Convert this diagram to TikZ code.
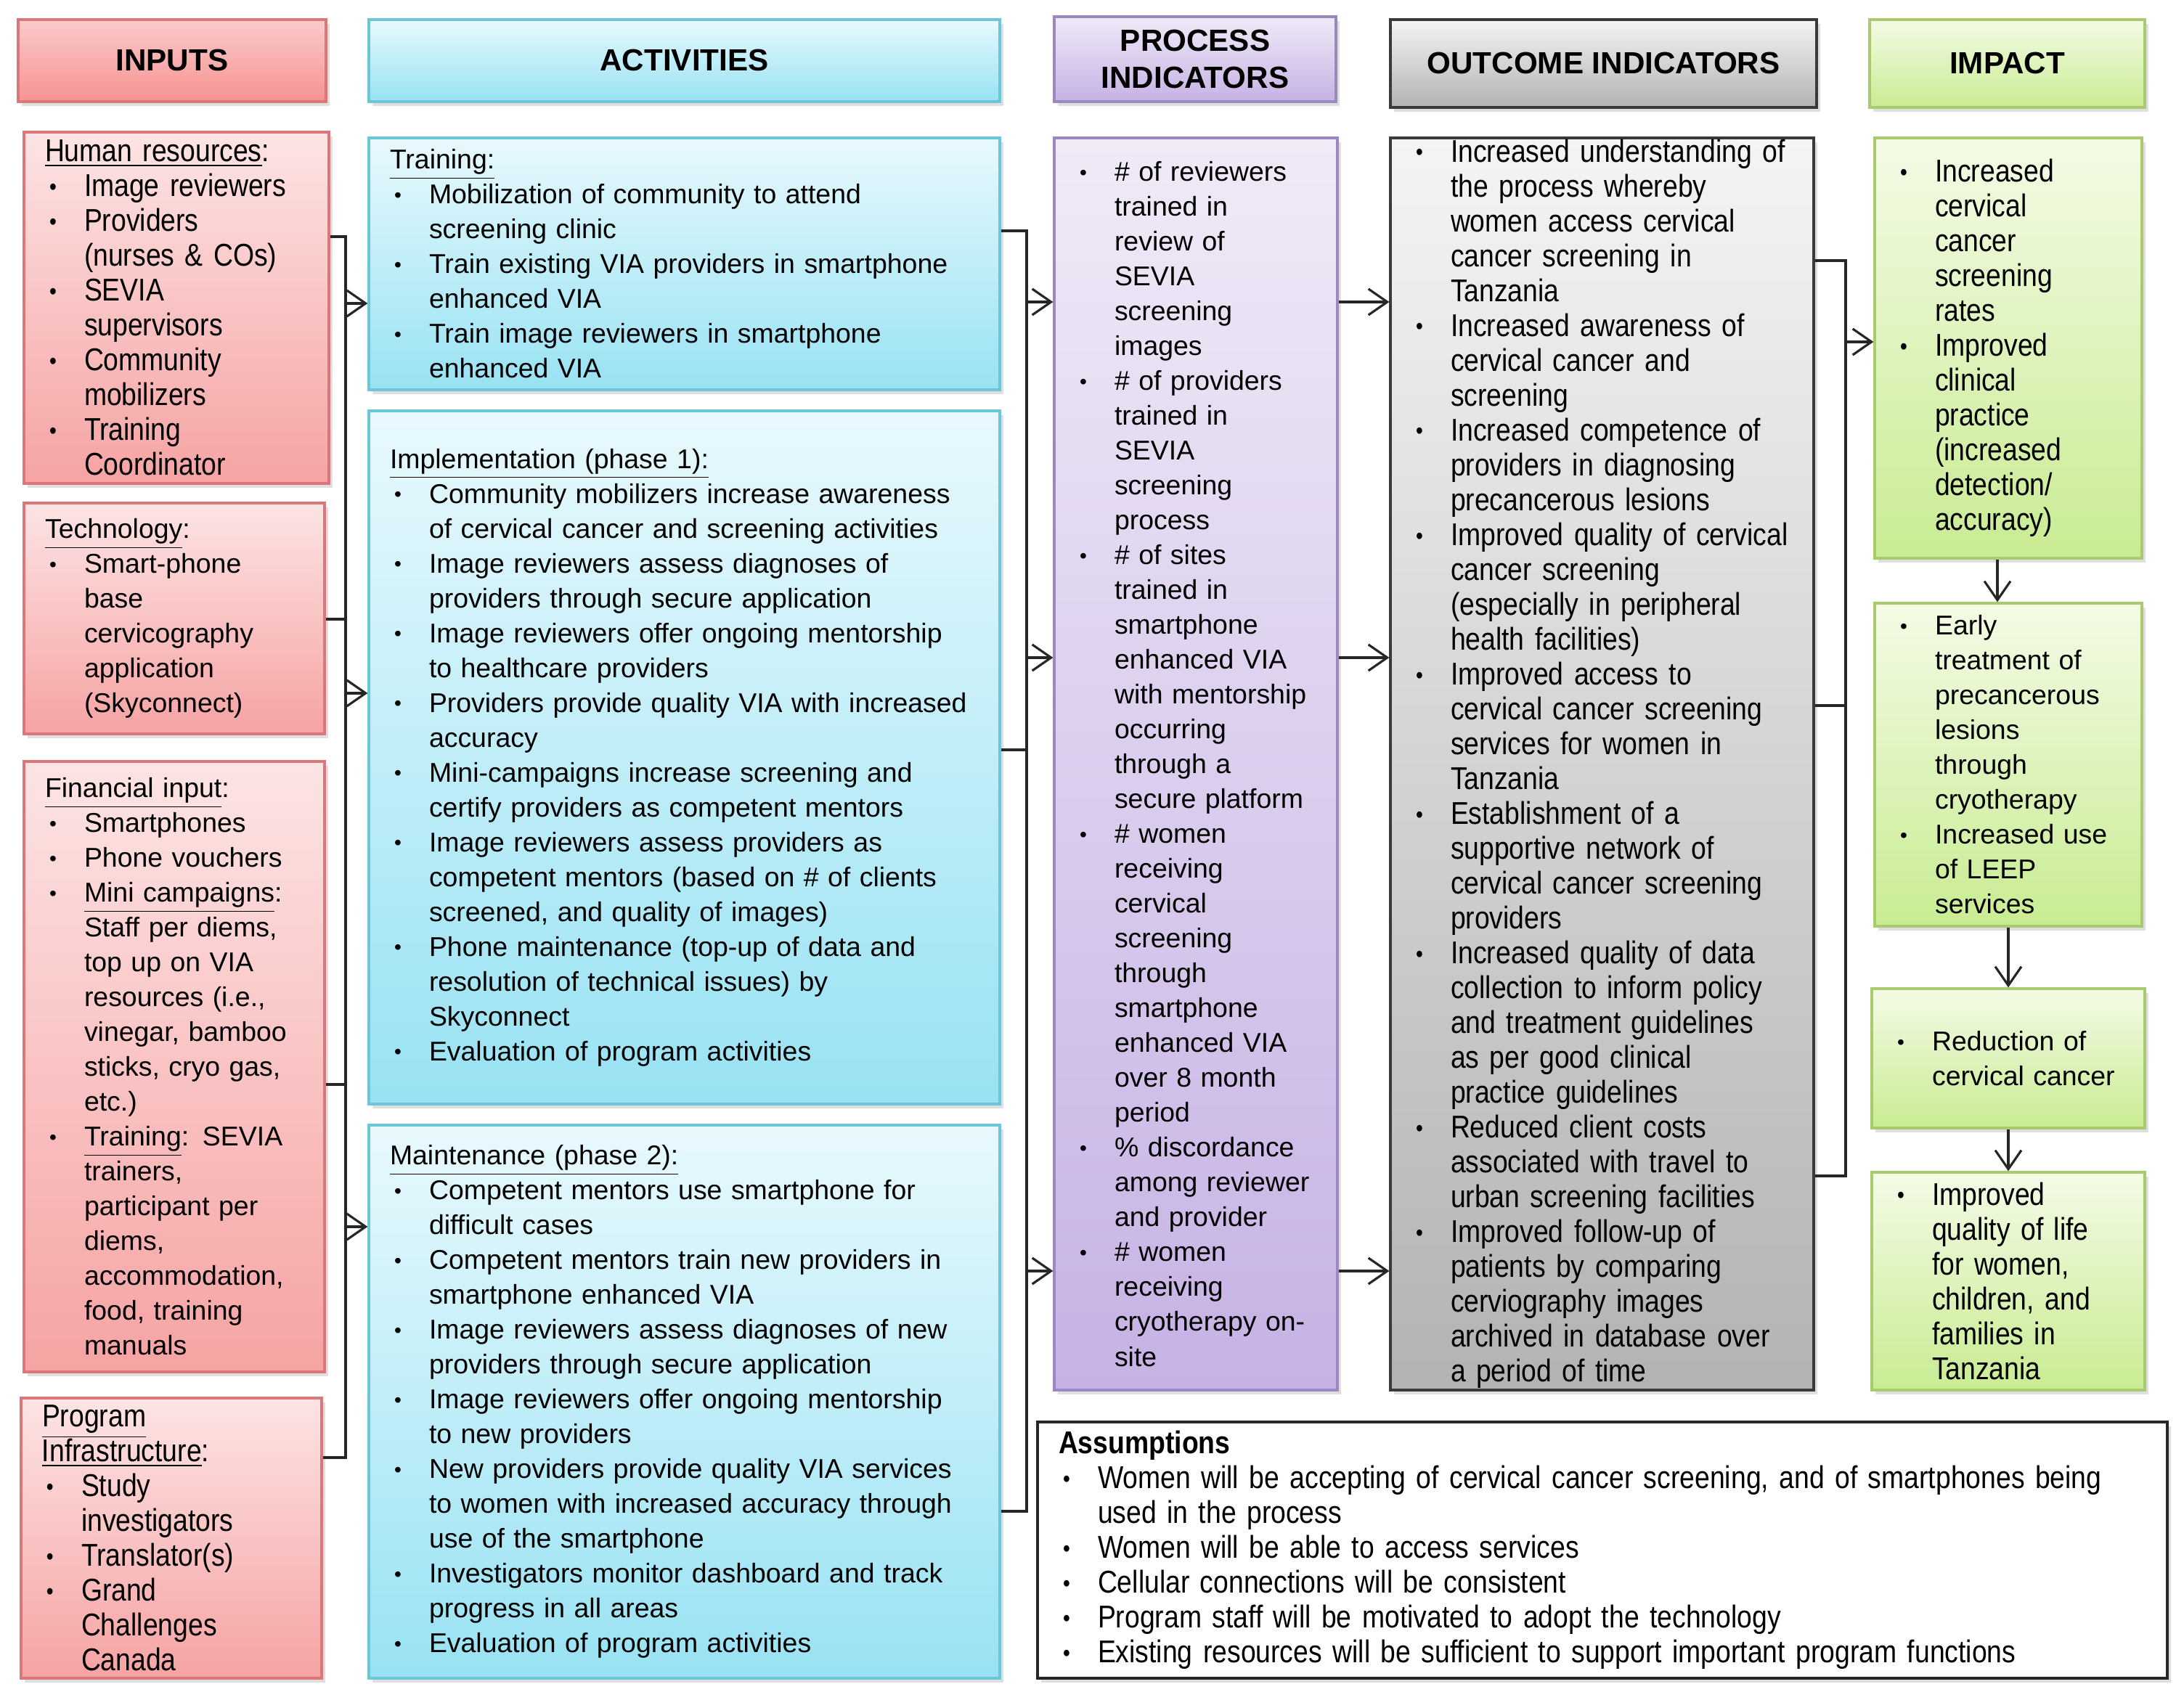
\documentclass[tikz,border=0pt]{standalone}
\usepackage{fontspec}
\usepackage{graphicx}
\setmainfont{Liberation Sans}
\newfontfamily\narrowsf[FakeStretch=0.86]{Liberation Sans}
\usetikzlibrary{arrows.meta,shadows}

\definecolor{inEdge}{HTML}{D9777B}
\definecolor{inTop}{HTML}{FDE4E4}
\definecolor{inBot}{HTML}{F6A3A3}
\definecolor{acEdge}{HTML}{6CC6D6}
\definecolor{acTop}{HTML}{E8F9FD}
\definecolor{acBot}{HTML}{98E2F3}
\definecolor{prEdge}{HTML}{9A88BE}
\definecolor{prTop}{HTML}{F0EAF7}
\definecolor{prBot}{HTML}{C6B2E4}
\definecolor{ouEdge}{HTML}{3A3A3A}
\definecolor{ouTop}{HTML}{F4F4F4}
\definecolor{ouBot}{HTML}{B3B3B3}
\definecolor{imEdge}{HTML}{A9CB6E}
\definecolor{imTop}{HTML}{F4FBE6}
\definecolor{imBot}{HTML}{C8EC92}

% line starts inside the boxes
\newcommand{\hd}[1]{\hspace*{0.17cm}#1}
\newcommand{\bu}{\hspace*{0.23cm}\makebox[0.48cm][l]{\raisebox{0.06em}{\scalebox{0.75}{\textbullet}}}}
\newcommand{\nx}{\hspace*{0.71cm}}

\begin{document}
\begin{tikzpicture}[
  box/.style={draw, line width=0.9pt, inner xsep=0.12cm, inner ysep=0pt,
    align=left, drop shadow={opacity=0.25, shadow xshift=0.05cm, shadow yshift=-0.06cm}},
  reg/.style={font=\fontsize{10.65}{13.66}\selectfont},
  nar/.style={font=\narrowsf\fontsize{12.35}{13.66}\selectfont},
  hdr/.style={box, align=center, font=\bfseries\fontsize{12}{14.7}\selectfont},
  inbox/.style={box, draw=inEdge, top color=inTop, bottom color=inBot},
  acbox/.style={box, draw=acEdge, top color=acTop, bottom color=acBot},
  prbox/.style={box, draw=prEdge, top color=prTop, bottom color=prBot},
  oubox/.style={box, draw=ouEdge, top color=ouTop, bottom color=ouBot},
  imbox/.style={box, draw=imEdge, top color=imTop, bottom color=imBot},
  wire/.style={line width=0.9pt, black!85},
  arr/.style={wire, -{Straight Barb[length=2.6mm, width=3.6mm]}}
]
\useasboundingbox (0,0) rectangle (30.08,23.42);

% column headers
\node[hdr, draw=inEdge, top color=inTop!60!inBot, bottom color=inBot!90!red,
  minimum width=4.24cm, minimum height=1.13cm] (hIn) at (2.37,22.585) {INPUTS};
\node[hdr, draw=acEdge, top color=acTop, bottom color=acBot,
  minimum width=8.69cm, minimum height=1.13cm] (hAct) at (9.425,22.585) {ACTIVITIES};
\node[hdr, draw=prEdge, top color=prTop, bottom color=prBot,
  minimum width=3.88cm, minimum height=1.17cm] (hPro) at (16.46,22.605) {PROCESS\\INDICATORS};
\node[hdr, draw=ouEdge, top color=ouTop, bottom color=ouBot,
  minimum width=5.87cm, minimum height=1.21cm] (hOut) at (22.085,22.545) {OUTCOME INDICATORS};
\node[hdr, draw=imEdge, top color=imTop, bottom color=imBot,
  minimum width=3.79cm, minimum height=1.21cm] (hImp) at (27.645,22.545) {IMPACT};

% inputs
\node[inbox, nar, minimum width=4.20cm, minimum height=4.84cm, text width=3.96cm] (hr) at (2.43,19.18) {%
\hd{\underline{Human resources}:}\\
\bu Image reviewers\\
\bu Providers\\
\nx (nurses \& COs)\\
\bu SEVIA\\
\nx supervisors\\
\bu Community\\
\nx mobilizers\\
\bu Training\\
\nx Coordinator};
\node[inbox, reg, minimum width=4.14cm, minimum height=3.18cm, text width=3.90cm] (tech) at (2.40,14.90) {%
\hd{\underline{Technology}:}\\
\bu Smart-phone\\
\nx base\\
\nx cervicography\\
\nx application\\
\nx (Skyconnect)};
\node[inbox, reg, minimum width=4.14cm, minimum height=8.41cm, text width=3.90cm] (fin) at (2.40,8.725) {%
\hd{\underline{Financial input}:}\\
\bu Smartphones\\
\bu Phone vouchers\\
\bu \underline{Mini campaigns}:\\
\nx Staff per diems,\\
\nx top up on VIA\\
\nx resources (i.e.,\\
\nx vinegar, bamboo\\
\nx sticks, cryo gas,\\
\nx etc.)\\
\bu \underline{Training}: SEVIA\\
\nx trainers,\\
\nx participant per\\
\nx diems,\\
\nx accommodation,\\
\nx food, training\\
\nx manuals};
\node[inbox, nar, minimum width=4.14cm, minimum height=3.86cm, text width=3.90cm] (prog) at (2.36,2.23) {%
\hd{\underline{Program}}\\
\hd{\underline{Infrastructure}:}\\
\bu Study\\
\nx investigators\\
\bu Translator(s)\\
\bu Grand\\
\nx Challenges\\
\nx Canada};

% activities
\node[acbox, reg, minimum width=8.69cm, minimum height=3.47cm, text width=8.45cm] (act1) at (9.425,19.785) {%
\hd{\underline{Training:}}\\
\bu Mobilization of community to attend\\
\nx screening clinic\\
\bu Train existing VIA providers in smartphone\\
\nx enhanced VIA\\
\bu Train image reviewers in smartphone\\
\nx enhanced VIA};
\node[acbox, reg, minimum width=8.69cm, minimum height=9.55cm, text width=8.45cm] (act2) at (9.425,12.985) {%
\hd{\underline{Implementation (phase 1):}}\\
\bu Community mobilizers increase awareness\\
\nx of cervical cancer and screening activities\\
\bu Image reviewers assess diagnoses of\\
\nx providers through secure application\\
\bu Image reviewers offer ongoing mentorship\\
\nx to healthcare providers\\
\bu Providers provide quality VIA with increased\\
\nx accuracy\\
\bu Mini-campaigns increase screening and\\
\nx certify providers as competent mentors\\
\bu Image reviewers assess providers as\\
\nx competent mentors (based on \# of clients\\
\nx screened, and quality of images)\\
\bu Phone maintenance (top-up of data and\\
\nx resolution of technical issues) by\\
\nx Skyconnect\\
\bu Evaluation of program activities};
\node[acbox, reg, minimum width=8.69cm, minimum height=7.62cm, text width=8.45cm] (act3) at (9.425,4.11) {%
\hd{\underline{Maintenance (phase 2):}}\\
\bu Competent mentors use smartphone for\\
\nx difficult cases\\
\bu Competent mentors train new providers in\\
\nx smartphone enhanced VIA\\
\bu Image reviewers assess diagnoses of new\\
\nx providers through secure application\\
\bu Image reviewers offer ongoing mentorship\\
\nx to new providers\\
\bu New providers provide quality VIA services\\
\nx to women with increased accuracy through\\
\nx use of the smartphone\\
\bu Investigators monitor dashboard and track\\
\nx progress in all areas\\
\bu Evaluation of program activities};

% process indicators
\node[prbox, reg, minimum width=3.90cm, minimum height=17.25cm, text width=3.66cm] (proc) at (16.47,12.895) {%
\bu \# of reviewers\\
\nx trained in\\
\nx review of\\
\nx SEVIA\\
\nx screening\\
\nx images\\
\bu \# of providers\\
\nx trained in\\
\nx SEVIA\\
\nx screening\\
\nx process\\
\bu \# of sites\\
\nx trained in\\
\nx smartphone\\
\nx enhanced VIA\\
\nx with mentorship\\
\nx occurring\\
\nx through a\\
\nx secure platform\\
\bu \# women\\
\nx receiving\\
\nx cervical\\
\nx screening\\
\nx through\\
\nx smartphone\\
\nx enhanced VIA\\
\nx over 8 month\\
\nx period\\
\bu \% discordance\\
\nx among reviewer\\
\nx and provider\\
\bu \# women\\
\nx receiving\\
\nx cryotherapy on-\\
\nx site};

% outcome indicators
\node[oubox, nar, minimum width=5.83cm, minimum height=17.25cm, text width=5.59cm] (out) at (22.065,12.895) {%
\bu Increased understanding of\\
\nx the process whereby\\
\nx women access cervical\\
\nx cancer screening in\\
\nx Tanzania\\
\bu Increased awareness of\\
\nx cervical cancer and\\
\nx screening\\
\bu Increased competence of\\
\nx providers in diagnosing\\
\nx precancerous lesions\\
\bu Improved quality of cervical\\
\nx cancer screening\\
\nx (especially in peripheral\\
\nx health facilities)\\
\bu Improved access to\\
\nx cervical cancer screening\\
\nx services for women in\\
\nx Tanzania\\
\bu Establishment of a\\
\nx supportive network of\\
\nx cervical cancer screening\\
\nx providers\\
\bu Increased quality of data\\
\nx collection to inform policy\\
\nx and treatment guidelines\\
\nx as per good clinical\\
\nx practice guidelines\\
\bu Reduced client costs\\
\nx associated with travel to\\
\nx urban screening facilities\\
\bu Improved follow-up of\\
\nx patients by comparing\\
\nx cerviography images\\
\nx archived in database over\\
\nx a period of time};

% impact
\node[imbox, nar, minimum width=3.68cm, minimum height=5.79cm, text width=3.44cm] (imp1) at (27.66,18.625) {%
\bu Increased\\
\nx cervical\\
\nx cancer\\
\nx screening\\
\nx rates\\
\bu Improved\\
\nx clinical\\
\nx practice\\
\nx (increased\\
\nx detection/\\
\nx accuracy)};
\node[imbox, reg, minimum width=3.68cm, minimum height=4.45cm, text width=3.44cm] (imp2) at (27.66,12.885) {%
\bu Early\\
\nx treatment of\\
\nx precancerous\\
\nx lesions\\
\nx through\\
\nx cryotherapy\\
\bu Increased use\\
\nx of LEEP\\
\nx services};
\node[imbox, reg, minimum width=3.76cm, minimum height=1.92cm, text width=3.52cm] (imp3) at (27.66,8.84) {%
\bu Reduction of\\
\nx cervical cancer};
\node[imbox, nar, minimum width=3.76cm, minimum height=3.00cm, text width=3.52cm] (imp4) at (27.66,5.77) {%
\bu Improved\\
\nx quality of life\\
\nx for women,\\
\nx children, and\\
\nx families in\\
\nx Tanzania};

% assumptions
\node[box, nar, draw=black!85, fill=white, minimum width=15.56cm, minimum height=3.53cm, text width=15.32cm] (asm) at (22.07,2.065) {%
\hd{\textbf{Assumptions}}\\
\bu Women will be accepting of cervical cancer screening, and of smartphones being\\
\nx used in the process\\
\bu Women will be able to access services\\
\bu Cellular connections will be consistent\\
\bu Program staff will be motivated to adopt the technology\\
\bu Existing resources will be sufficient to support important program functions};

% inputs -> activities
\coordinate (bIa) at (4.76,20.16);
\coordinate (bIb) at (4.76,14.89);
\coordinate (bIc) at (4.76,8.48);
\coordinate (bId) at (4.76,3.34);
\coordinate (tIa) at (4.76,19.24);
\coordinate (tIb) at (4.76,13.87);
\coordinate (tIc) at (4.76,6.52);
\draw[wire] (bIa -| hr.east) -- (bIa) -- (bId) -- (bId -| prog.east);
\draw[wire] (bIb -| tech.east) -- (bIb);
\draw[wire] (bIc -| fin.east) -- (bIc);
\draw[arr] (tIa) -- (tIa -| act1.west);
\draw[arr] (tIb) -- (tIb -| act2.west);
\draw[arr] (tIc) -- (tIc -| act3.west);

% activities -> process indicators
\coordinate (bAa) at (14.14,20.24);
\coordinate (bAb) at (14.14,13.09);
\coordinate (bAc) at (14.14,2.60);
\coordinate (tAa) at (14.14,19.26);
\coordinate (tAb) at (14.14,14.36);
\coordinate (tAc) at (14.14,5.91);
\draw[wire] (bAa -| act1.east) -- (bAa) -- (bAc) -- (bAc -| act3.east);
\draw[wire] (bAb -| act2.east) -- (bAb);
\draw[arr] (tAa) -- (tAa -| proc.west);
\draw[arr] (tAb) -- (tAb -| proc.west);
\draw[arr] (tAc) -- (tAc -| proc.west);

% process -> outcome
\draw[arr] (tAa -| proc.east) -- (tAa -| out.west);
\draw[arr] (tAb -| proc.east) -- (tAb -| out.west);
\draw[arr] (tAc -| proc.east) -- (tAc -| out.west);

% outcome -> impact
\coordinate (bOa) at (25.42,19.83);
\coordinate (bOb) at (25.42,13.70);
\coordinate (bOc) at (25.42,7.22);
\coordinate (tOa) at (25.42,18.71);
\draw[wire] (bOa -| out.east) -- (bOa) -- (bOc) -- (bOc -| out.east);
\draw[wire] (bOb -| out.east) -- (bOb);
\draw[arr] (tOa) -- (tOa -| imp1.west);

% impact chain
\draw[arr] ([xshift=-1.5mm]imp1.south) -- ([xshift=-1.5mm]imp2.north);
\draw[arr] (imp2.south) -- (imp3.north);
\draw[arr] (imp3.south) -- (imp4.north);
\end{tikzpicture}
\end{document}
